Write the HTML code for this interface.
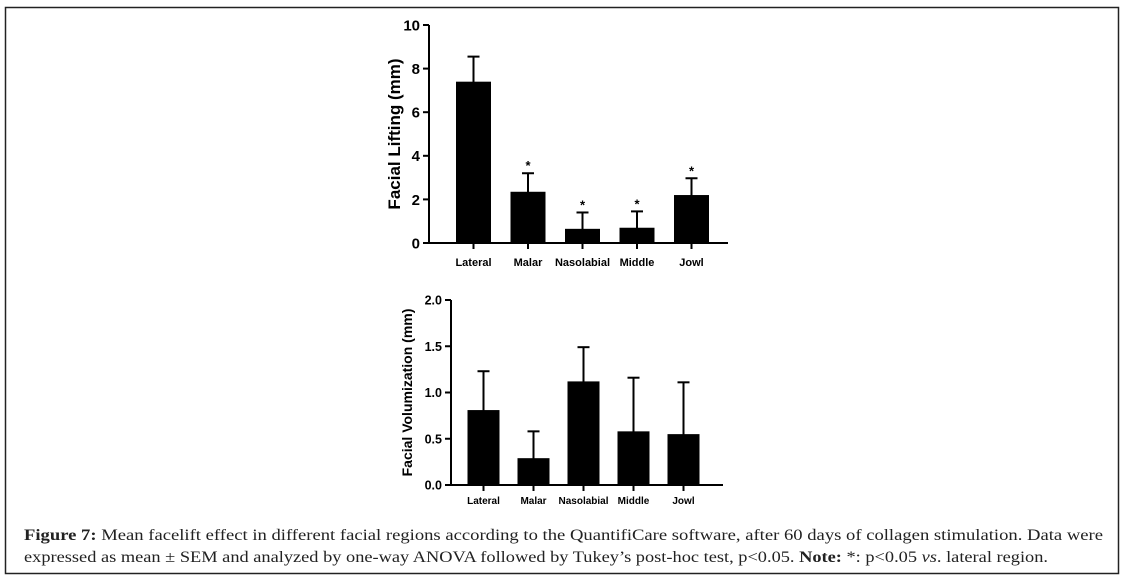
<!DOCTYPE html>
<html><head><meta charset="utf-8"><style>
body{margin:0;background:#fff}
svg{display:block}
text{font-family:"Liberation Sans",Arial,sans-serif}
.cap{font-family:"Liberation Serif","DejaVu Serif",serif;font-size:16px;fill:#222}
</style></head><body>
<svg id="fig" width="1127" height="582" viewBox="0 0 1127 582">
<rect x="5.5" y="7.5" width="1113" height="566" fill="none" stroke="#222" stroke-width="1.5"/>
<g id="c1"></g>
<g id="c2"></g>
<text class="cap" x="24" y="540" textLength="1079" lengthAdjust="spacingAndGlyphs"><tspan font-weight="bold">Figure 7:</tspan> Mean facelift effect in different facial regions according to the QuantifiCare software, after 60 days of collagen stimulation. Data were</text>
<text class="cap" x="24" y="562" textLength="1024" lengthAdjust="spacingAndGlyphs">expressed as mean ± SEM and analyzed by one-way ANOVA followed by Tukey’s post-hoc test, p&lt;0.05.  <tspan font-weight="bold">Note:</tspan> *: p&lt;0.05 <tspan font-style="italic">vs</tspan>. lateral region.</text>
</svg>
<script>
const categories=["Lateral","Malar","Nasolabial","Middle","Jowl"];
const liftValues=[7.4,2.35,0.65,0.7,2.2];
const liftErrors=[1.15,0.85,0.75,0.75,0.77];
const liftSig=[false,true,true,true,true];
const liftTicks=[0,2,4,6,8,10];
const liftTickLabels=["0","2","4","6","8","10"];
const volValues=[0.81,0.29,1.12,0.58,0.55];
const volErrors=[0.42,0.29,0.37,0.58,0.56];
const volTicks=[0,0.5,1,1.5,2];
const volTickLabels=["0.0","0.5","1.0","1.5","2.0"];
const NS="http://www.w3.org/2000/svg";
function mk(p,t,a){const e=document.createElementNS(NS,t);for(const k in a)e.setAttribute(k,a[k]);p.appendChild(e);return e;}
function draw(g,o){
  const y=v=>o.y0-(v-o.min)/(o.max-o.min)*(o.y0-o.y1);
  const ax=mk(g,'path',{d:`M${o.ax} ${o.y1}V${o.y0}H${o.xEnd}`,fill:'none',stroke:'#000','stroke-width':2});
  
  
  o.ticks.forEach((t,i)=>{
    const l=mk(g,'line',{x1:o.ax-6,x2:o.ax,y1:y(t),y2:y(t),stroke:'#000','stroke-width':2});
    
    
    const tx=mk(g,'text',{x:o.ax-9,y:y(t)+o.tf*0.36,'text-anchor':'end','font-size':o.tf,'font-weight':'bold'});
    tx.textContent=o.tickLabels[i];
    
    
  });
  const tt=mk(g,'text',{x:0,y:0,transform:`translate(${o.titleX},${(o.y0+o.y1)/2}) rotate(-90)`,'text-anchor':'middle','font-size':o.titleF,'font-weight':'bold'});
  tt.textContent=o.title;
  
  
  categories.forEach((c,i)=>{
    const cx=o.c0+i*o.step, v=o.vals[i], e=o.errs[i];
    const el=mk(g,'line',{x1:cx,x2:cx,y1:y(v+e),y2:y(0)+6,stroke:'#000','stroke-width':2});
    
    
    const cap=mk(g,'line',{x1:cx-6,x2:cx+6,y1:y(v+e),y2:y(v+e),stroke:'#000','stroke-width':2});
    
    
    const r=mk(g,'rect',{x:cx-o.bw/2,y:y(v),width:o.bw,height:y(0)-y(v),fill:'#000'});
    
    
    const lb=mk(g,'text',{x:cx,y:o.labY,'text-anchor':'middle','font-size':o.lf,'font-weight':'bold'});
    lb.textContent=c;
    
    
    if(o.sig&&o.sig[i]){
      const s=mk(g,'text',{x:cx,y:y(v+e)-3,'text-anchor':'middle','font-size':13,'font-weight':'bold'});
      s.textContent='*';
      
      
    }
  });
}
draw(document.getElementById('c1'),{min:0,max:10,y0:243,y1:25,ax:429,xEnd:728,c0:473.5,step:54.5,bw:35,vals:liftValues,errs:liftErrors,sig:liftSig,ticks:liftTicks,tickLabels:liftTickLabels,tf:15,title:'Facial Lifting (mm)',titleX:400,titleF:17,labY:266,lf:11});
draw(document.getElementById('c2'),{min:0,max:2,y0:485,y1:300,ax:451,xEnd:723,c0:483.5,step:50,bw:32,vals:volValues,errs:volErrors,sig:null,ticks:volTicks,tickLabels:volTickLabels,tf:12.5,title:'Facial Volumization (mm)',titleX:412,titleF:14,labY:504,lf:10});
</script>
</body></html>
